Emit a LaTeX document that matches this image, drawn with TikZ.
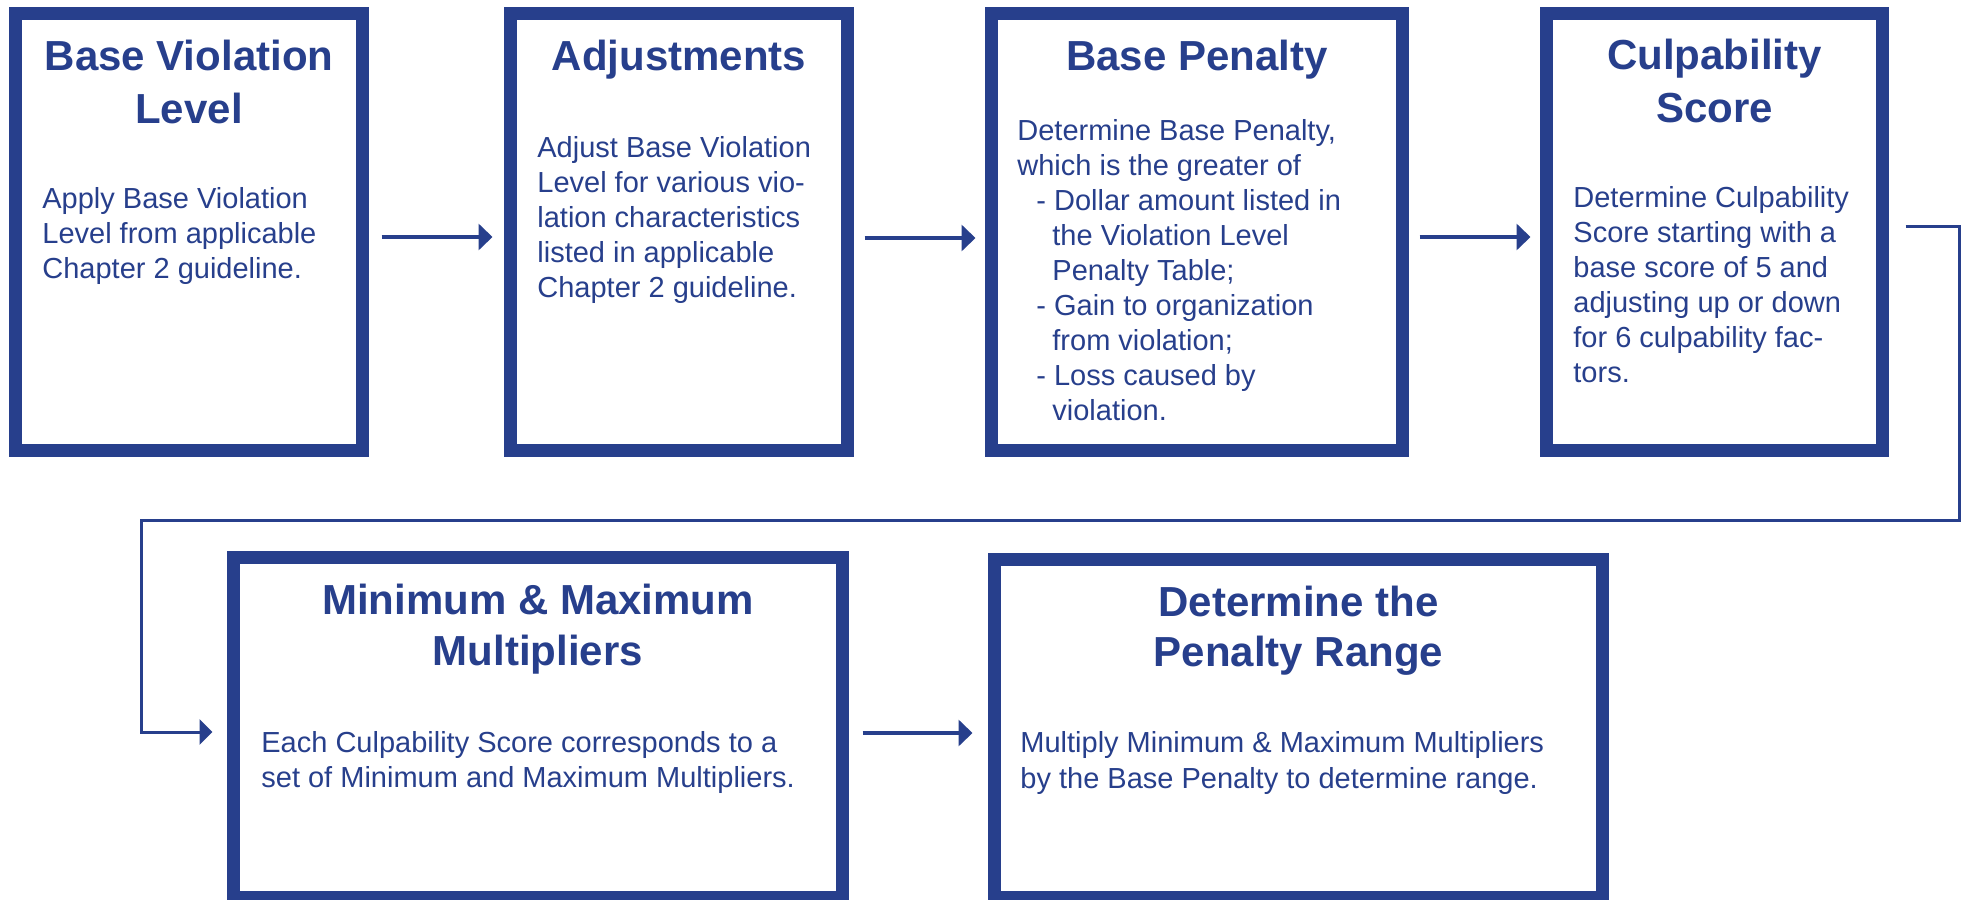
\documentclass[tikz,border=0pt]{standalone}
\usepackage{fontspec}
\setmainfont{Liberation Sans}
\usetikzlibrary{arrows.meta}
\definecolor{navy}{RGB}{39,63,140}
\begin{document}
\begin{tikzpicture}[x=0.5pt,y=-0.5pt,
  stepbox/.style={draw=navy,line width=6.5pt,rectangle,inner sep=0pt,fill=white},
  titletext/.style={font=\fontsize{21pt}{26.5pt}\selectfont\bfseries,text=navy,align=center,anchor=base,inner sep=0pt},
  bodytext/.style={font=\fontsize{14.5pt}{17.5pt}\selectfont,text=navy,align=left,anchor=base west,inner sep=0pt},
  flowarrow/.style={draw=navy,line width=2.25pt,-{Triangle[length=7pt,width=13pt]}},
  returnarrow/.style={draw=navy,line width=1.5pt,-{Triangle[length=6.5pt,width=12.5pt]}}
]
\clip (0,0) rectangle (1967,900);
\fill[white] (0,0) rectangle (1967,900);

% boxes
\node[stepbox,minimum width=173.5pt,minimum height=218.5pt] (b1) at (189,232) {};
\node[stepbox,minimum width=168.5pt,minimum height=218.5pt] (b2) at (679,232) {};
\node[stepbox,minimum width=205.5pt,minimum height=218.5pt] (b3) at (1197,232) {};
\node[stepbox,minimum width=168pt,minimum height=218.5pt] (b4) at (1714.5,232) {};
\node[stepbox,minimum width=304.5pt,minimum height=170pt] (b5) at (538,727.5) {};
\node[stepbox,minimum width=304pt,minimum height=169pt] (b6) at (1298.5,728.5) {};

% titles (anchor = baseline of last line)
\node[titletext] (t1) at (189,123) {Base Violation\\Level};
\node[titletext] (t2) at (679,70) {Adjustments};
\node[titletext] (t3) at (1197,70) {Base Penalty};
\node[titletext] (t4) at (1714.5,122) {Culpability\\Score};
\node[titletext,font=\fontsize{21pt}{25.5pt}\selectfont\bfseries] (t5) at (538,665) {Minimum \& Maximum\\Multipliers};
\node[titletext,font=\fontsize{21pt}{25pt}\selectfont\bfseries] (t6) at (1298.5,666) {Determine the\\Penalty Range};

% bodies (anchor = baseline of last line)
\node[bodytext] (d1) at (42,278) {Apply Base Violation\\Level from applicable\\Chapter 2 guideline.};
\node[bodytext] (d2) at (537,297) {Adjust Base Violation\\Level for various vio-\\lation characteristics\\listed in applicable\\Chapter 2 guideline.};
\node[bodytext] (d3) at (1017,420) {Determine Base Penalty,\\which is the greater of\\\hspace*{9.5pt}- Dollar amount listed in\\\hspace*{17.5pt}the Violation Level\\\hspace*{17.5pt}Penalty Table;\\\hspace*{9.5pt}- Gain to organization\\\hspace*{17.5pt}from violation;\\\hspace*{9.5pt}- Loss caused by\\\hspace*{17.5pt}violation.};
\node[bodytext] (d4) at (1573,382) {Determine Culpability\\Score starting with a\\base score of 5 and\\adjusting up or down\\for 6 culpability fac-\\tors.};
\node[bodytext] (d5) at (261,787) {Each Culpability Score corresponds to a\\set of Minimum and Maximum Multipliers.};
\node[bodytext,font=\fontsize{14.5pt}{18pt}\selectfont] (d6) at (1020,788) {Multiply Minimum \& Maximum Multipliers\\by the Base Penalty to determine range.};

% connectors
\draw[flowarrow,shorten <=6.25pt,shorten >=5.75pt] ([yshift=-2.5pt]b1.east) -- ([yshift=-2.5pt]b2.west);
\draw[flowarrow,shorten <=5.25pt,shorten >=4.75pt] ([yshift=-3pt]b2.east) -- ([yshift=-3pt]b3.west);
\draw[flowarrow,shorten <=5.25pt,shorten >=4.75pt] ([yshift=-2.5pt]b3.east) -- ([yshift=-2.5pt]b4.west);
\coordinate (rc) at (1959,520);
\coordinate (lc) at (141,520);
\draw[returnarrow,shorten >=7.25pt] ([xshift=8.25pt,yshift=3pt]b4.east) -| (rc) -- (lc) |- ([yshift=-2.25pt]b5.west);
\draw[flowarrow,shorten <=6.75pt,shorten >=7.75pt] ([yshift=-2.75pt]b5.east) -- ([yshift=-2.75pt]b5.east -| b6.west);
\end{tikzpicture}
\end{document}
